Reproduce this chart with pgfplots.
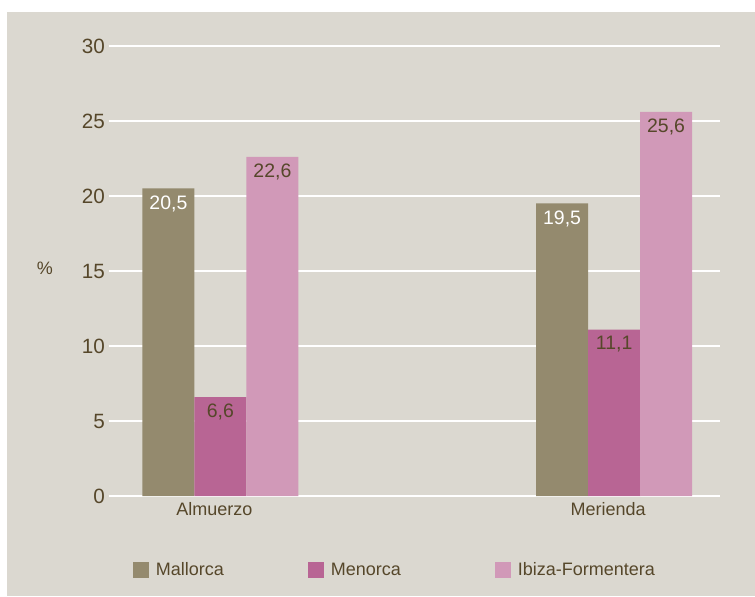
\documentclass[border=0pt]{standalone}
\usepackage{fontspec}
\setmainfont{Liberation Sans}
\usepackage{pgfplots}
\pgfplotsset{compat=1.18}

\definecolor{bgcol}{HTML}{DBD8D0}
\definecolor{mallorca}{HTML}{948A6E}
\definecolor{menorca}{HTML}{B86594}
\definecolor{ibiza}{HTML}{D199B8}
\definecolor{txt}{HTML}{56472A}

\begin{document}
\begin{tikzpicture}
% 1px = 0.75pt; axis box lower left at (0,0)
\path[use as bounding box] (-81.75pt,-75pt) rectangle (484.5pt,372pt);
\fill[white] (-81.75pt,-75pt) rectangle (484.5pt,372pt);
\fill[bgcol] (-76.5pt,-75pt) rectangle (484.5pt,363pt);
\begin{axis}[
    scale only axis,
    width=458.25pt, height=337.5pt,
    ybar=0pt, bar width=39pt,
    xmin=-0.283, xmax=1.269,
    ymin=0, ymax=30,
    xtick={0,1}, xticklabels={Almuerzo,Merienda},
    ytick={0,5,...,30},
    ymajorgrids,
    grid style={white, line width=1.2pt},
    axis line style={draw=none},
    major tick length=0pt,
    font=\fontsize{13.5}{16}\selectfont,
    tick label style={text=txt},
    /pgf/number format/assume math mode=true,
    yticklabel style={font=\fontsize{15.5}{18}\selectfont, xshift=0.5pt},
    xticklabel style={xshift=-4.5pt, yshift=-1.5pt},
    ylabel={\%},
    ylabel style={at={(axis description cs:-0.105,0.507)}, rotate=-90, anchor=center, text=txt},
    nodes near coords,
    nodes near coords style={anchor=north, inner sep=0pt, yshift=-5pt,
        font=\fontsize{14.6}{17}\selectfont,
        /pgf/number format/fixed, /pgf/number format/fixed zerofill,
        /pgf/number format/precision=1, /pgf/number format/use comma},
    legend columns=3,
    legend style={draw=none, fill=none, inner sep=0pt, text=txt,
        nodes={text height=1.6ex, text depth=0pt},
        at={(0.039,-0.164)}, anchor=west,
        /tikz/every even column/.append style={column sep=61.25pt}},
    legend image code/.code={\fill[#1,draw=none] (0pt,-6pt) rectangle (12pt,6pt); \path (15pt,0pt);},
]
\addplot[fill=mallorca, draw=none, every node near coord/.append style={text=white}]
    coordinates {(0,20.5) (1,19.5)};
\addplot[fill=menorca, draw=none, every node near coord/.append style={text=txt}]
    coordinates {(0,6.6) (1,11.1)};
\addplot[fill=ibiza, draw=none, every node near coord/.append style={text=txt}]
    coordinates {(0,22.6) (1,25.6)};
\legend{Mallorca,Menorca\kern7.5pt,Ibiza-Formentera}
\end{axis}
\end{tikzpicture}
\end{document}
